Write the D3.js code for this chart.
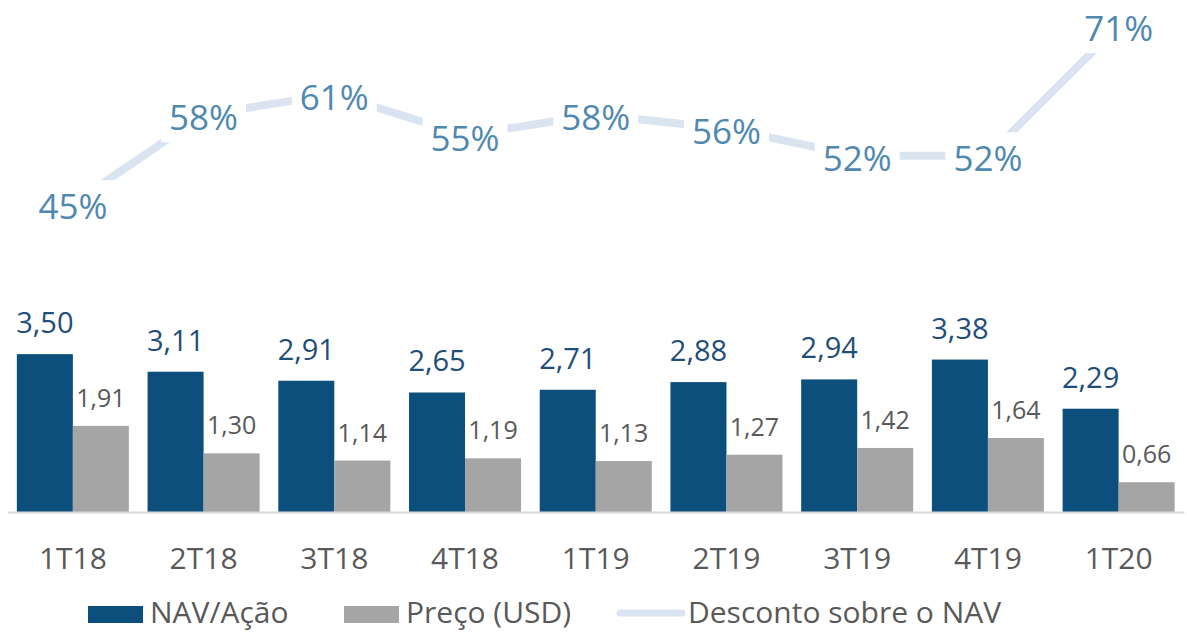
<!DOCTYPE html>
<html>
<head>
<meta charset="utf-8">
<script src="https://cdn.jsdelivr.net/npm/d3@7"></script>
<style>
  body { margin: 0; background: #fff; }
  text { font-family: "Open Sans", "Noto Sans", sans-serif; }
</style>
</head>
<body>
<div id="chart"></div>
<script>
const categories = ["1T18", "2T18", "3T18", "4T18", "1T19", "2T19", "3T19", "4T19", "1T20"];
const navAcao = [3.50, 3.11, 2.91, 2.65, 2.71, 2.88, 2.94, 3.38, 2.29];
const precoUsd = [1.91, 1.30, 1.14, 1.19, 1.13, 1.27, 1.42, 1.64, 0.66];
const desconto = [45, 58, 61, 55, 58, 56, 52, 52, 71];
const legendLabels = ["NAV/Ação", "Preço (USD)", "Desconto sobre o NAV"];

const W = 1187, H = 632;
const base = 512;

const ptBR = d3.formatLocale({decimal: ",", thousands: ".", grouping: [3], currency: ["R$", ""]});
const fmt2 = ptBR.format(".2f");

const svg = d3.select("#chart")
  .append("svg")
    .attr("width", W)
    .attr("height", H);

svg.append("rect").attr("width", W).attr("height", H).attr("fill", "#fff");

// scales
const x = d3.scaleBand()
  .domain(categories)
  .range([7.5, 1184])
  .paddingInner(0.143)
  .paddingOuter(0.0715);

const xs = d3.scaleBand()
  .domain(["nav", "preco"])
  .range([0, x.bandwidth()]);

const y = d3.scaleLinear()
  .domain([0, 4])
  .range([base, base - 4 * 45.1]);

const y2 = d3.scaleLinear()
  .domain([0, 100])
  .range([base, base - 685]);

// bars
const rows = categories.map((c, i) => ({cat: c, nav: navAcao[i], preco: precoUsd[i], desc: desconto[i]}));

const g = svg.selectAll("g.grp")
  .data(rows)
  .join("g")
    .attr("class", "grp")
    .attr("transform", d => `translate(${x(d.cat)},0)`);

g.append("rect")
  .attr("x", xs("nav"))
  .attr("y", d => y(d.nav))
  .attr("width", xs.bandwidth())
  .attr("height", d => base - y(d.nav))
  .attr("fill", "#0c4f7d");

g.append("rect")
  .attr("x", xs("preco"))
  .attr("y", d => y(d.preco))
  .attr("width", xs.bandwidth())
  .attr("height", d => base - y(d.preco))
  .attr("fill", "#a5a5a5");

g.append("text")
  .attr("x", xs("nav") + xs.bandwidth() / 2)
  .attr("y", d => y(d.nav) - 21)
  .attr("text-anchor", "middle")
  .attr("font-size", 29)
  .attr("fill", "#1f4e79")
  .text(d => fmt2(d.nav));

g.append("text")
  .attr("x", xs("preco") + xs.bandwidth() / 2)
  .attr("y", d => y(d.preco) - 19)
  .attr("text-anchor", "middle")
  .attr("font-size", 25)
  .attr("fill", "#595959")
  .text(d => fmt2(d.preco));

// x axis
const xAxis = svg.append("g")
  .attr("transform", `translate(0,${base})`)
  .call(d3.axisBottom(x).tickSize(0).tickPadding(36));
xAxis.select(".domain").attr("stroke", "#d9d9d9").attr("stroke-width", 2);
xAxis.selectAll("text")
  .attr("font-size", 30)
  .attr("fill", "#595959")
  .attr("font-family", "Open Sans");

// discount line
const cx = d => x(d.cat) + x.bandwidth() / 2;
const line = d3.line()
  .x(cx)
  .y(d => y2(d.desc));

svg.append("path")
  .datum(rows)
  .attr("d", line)
  .attr("fill", "none")
  .attr("stroke", "#dae3f0")
  .attr("stroke-width", 8);

const lbl = svg.selectAll("g.lbl")
  .data(rows)
  .join("g")
    .attr("class", "lbl");

lbl.append("rect").attr("fill", "#fff");
lbl.append("text")
  .attr("x", cx)
  .attr("y", d => y2(d.desc) + 15.5)
  .attr("text-anchor", "middle")
  .attr("font-size", 35)
  .attr("fill", "#5089b0")
  .text(d => d.desc + "%");

lbl.each(function () {
  const t = d3.select(this).select("text").node().getBBox();
  d3.select(this).select("rect")
    .attr("x", t.x - 8)
    .attr("y", t.y - 2)
    .attr("width", t.width + 16)
    .attr("height", t.height + 4);
});

// legend
const legend = svg.append("g");
const items = [
  {label: legendLabels[0], type: "rect", color: "#0c4f7d", x0: 88, tx: 150},
  {label: legendLabels[1], type: "rect", color: "#a5a5a5", x0: 344, tx: 406},
  {label: legendLabels[2], type: "line", color: "#dae3f0", x0: 620, tx: 688}
];
items.forEach(it => {
  if (it.type === "rect") {
    legend.append("rect")
      .attr("x", it.x0).attr("y", 606)
      .attr("width", 55).attr("height", 17)
      .attr("fill", it.color);
  } else {
    legend.append("line")
      .attr("x1", it.x0).attr("x2", it.x0 + 62)
      .attr("y1", 613).attr("y2", 613)
      .attr("stroke", it.color).attr("stroke-width", 7)
      .attr("stroke-linecap", "round");
  }
  legend.append("text")
    .attr("x", it.tx).attr("y", 623)
    .attr("font-size", 30)
    .attr("fill", "#595959")
    .text(it.label);
});
</script>
</body>
</html>
